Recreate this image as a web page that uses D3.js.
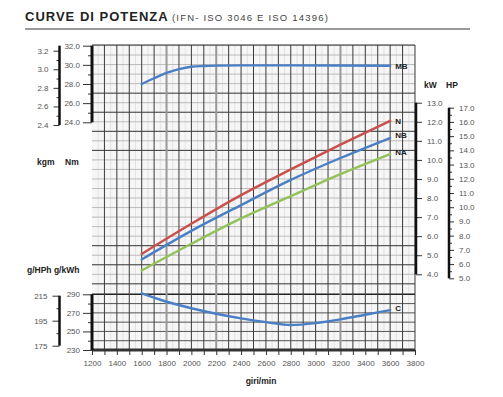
<!DOCTYPE html>
<html><head><meta charset="utf-8">
<script src="https://cdn.jsdelivr.net/npm/d3@7"></script>
<style>
html,body{margin:0;padding:0;background:#fff;}
svg{display:block;font-family:"Liberation Sans",Arial,sans-serif;}
.tick text{font-size:8px;fill:#555;}
.lbl{font-size:8.5px;font-weight:bold;fill:#222;}
</style></head>
<body>
<svg id="c" width="503" height="397"></svg>
<script>
// ---- data ----
const rpmTicks = [1200,1400,1600,1800,2000,2200,2400,2600,2800,3000,3200,3400,3600,3800];
const nmTicks = [24,26,28,30,32];
const kgmTicks = [2.4,2.6,2.8,3.0,3.2];
const kwTicks = [4,5,6,7,8,9,10,11,12,13];
const hpTicks = [5,6,7,8,9,10,11,12,13,14,15,16,17];
const gkwhTicks = [230,250,270,290];
const ghphTicks = [175,195,215];

const mbRpm = [1600,1700,1800,1900,2000,2100,2200,2400,2800,3200,3600];
const mbNm  = [28.0,28.6,29.15,29.55,29.8,29.88,29.92,29.95,29.95,29.93,29.9];

const powRpm = [1600,2000,2400,2800,3200,3600];
const powN  = [5.07,6.65,8.15,9.5,10.8,12.05];
const powNB = [4.78,6.28,7.63,8.95,10.1,11.15];
const powNA = [4.2,5.6,6.93,8.1,9.25,10.3];

const cRpm = [1600,1800,2000,2200,2400,2600,2800,3000,3200,3400,3600];
const cGkwh = [291,282,275,269,264,260,257,259,263,268,273];

// ---- scales ----
const svg = d3.select("#c");
const x = d3.scaleLinear().domain([1200,3800]).range([92,415]);
const yNm = d3.scaleLinear().domain([24,32]).range([122.3,45.7]);
const yKgm = d3.scaleLinear().domain([2.4,3.2]).range([125,50.7]);
const yKw = d3.scaleLinear().domain([4,13]).range([274.3,102.7]);
const yHp = d3.scaleLinear().domain([5,17]).range([278.3,107.7]);
const yG = d3.scaleLinear().domain([230,290]).range([350,294.3]);
const yGh = d3.scaleLinear().domain([175,215]).range([345.7,295.7]);
const pTop = 45, pBot = 350;

// ---- title ----
svg.append("text").attr("x",25).attr("y",21)
  .style("font-weight","bold").style("font-size","13px")
  .style("letter-spacing","1px").attr("fill","#222").text("CURVE DI POTENZA");
svg.append("text").attr("x",172).attr("y",21)
  .style("font-size","9.5px").style("letter-spacing","1.2px").attr("fill","#444")
  .text("(IFN- ISO 3046 E ISO 14396)");
svg.append("line").attr("x1",25).attr("x2",470).attr("y1",29).attr("y2",29)
  .attr("stroke","#777").attr("stroke-width",1.5);

// ---- plot background & grid ----
svg.append("rect").attr("x",x(1200)).attr("y",pTop).attr("width",x(3800)-x(1200)).attr("height",pBot-pTop)
  .attr("fill","#f6f6f6");
const g = svg.append("g");
d3.range(1250,3800,100).forEach(v=>{
  g.append("line").attr("x1",x(v)).attr("x2",x(v)).attr("y1",pTop).attr("y2",pBot)
   .attr("stroke","#e2e2e2").attr("stroke-width",1);
});
const hLines = d3.range(3.5,16.01,0.5);
hLines.forEach(v=>{
  const dark = [13.5,12.5,11.5,10.5,5.5,4.5,3.5].includes(v);
  g.append("line").attr("x1",x(1200)).attr("x2",x(3800)).attr("y1",yKw(v)).attr("y2",yKw(v))
   .attr("stroke",dark?"#333":"#bbb").attr("stroke-width",1);
});
d3.range(230,291,10).forEach(v=>{
  g.append("line").attr("x1",x(1200)).attr("x2",x(3800)).attr("y1",yG(v)).attr("y2",yG(v))
   .attr("stroke",v===290?"#222":"#555").attr("stroke-width",v===290?1.5:1);
});
d3.range(1300,3801,100).forEach(v=>{
  const gray = [1800,2200,3200].includes(v);
  g.append("line").attr("x1",x(v)).attr("x2",x(v)).attr("y1",pTop).attr("y2",pBot)
   .attr("stroke",gray?"#999":"#3a3a3a").attr("stroke-width",gray?2:1);
});
g.append("line").attr("x1",x(1200)).attr("x2",x(3800)).attr("y1",pTop).attr("y2",pTop)
  .attr("stroke","#333").attr("stroke-width",1);

// ---- axes ----
function styleAxis(sel){ sel.selectAll(".tick line").attr("stroke","#333"); sel.select(".domain").remove(); }
const xa = svg.append("g").attr("transform",`translate(0,${pBot})`)
  .call(d3.axisBottom(x).tickValues(rpmTicks).tickSize(5).tickPadding(5).tickFormat(d3.format("d")));
styleAxis(xa);
xa.selectAll(".tick text").attr("fill","#444");
svg.append("g").attr("transform",`translate(0,${pBot})`)
  .call(d3.axisBottom(x).tickValues(d3.range(1300,3800,200)).tickSize(5).tickFormat(""))
  .call(styleAxis);
svg.append("line").attr("x1",x(1200)).attr("x2",x(3800)).attr("y1",pBot).attr("y2",pBot)
  .attr("stroke","#333").attr("stroke-width",3);
svg.append("text").attr("class","lbl").attr("x",261).attr("y",384).attr("text-anchor","middle").text("giri/min");

// Nm
const nmA = svg.append("g").attr("transform",`translate(${x(1200)},0)`)
  .call(d3.axisLeft(yNm).tickValues(nmTicks).tickSize(9).tickPadding(3).tickFormat(d3.format(".1f")));
styleAxis(nmA);
svg.append("g").attr("transform",`translate(${x(1200)},0)`)
  .call(d3.axisLeft(yNm).tickValues([25,27,29,31]).tickSize(4).tickFormat("")).call(styleAxis);
svg.append("line").attr("x1",x(1200)).attr("x2",x(1200)).attr("y1",yNm(32)).attr("y2",yNm(24))
  .attr("stroke","#111").attr("stroke-width",3);
// kgm
const kgA = svg.append("g").attr("transform","translate(59.5,0)")
  .call(d3.axisLeft(yKgm).tickValues(kgmTicks).tickSize(6).tickPadding(5).tickFormat(d3.format(".1f")));
styleAxis(kgA);
svg.append("g").attr("transform","translate(59.5,0)")
  .call(d3.axisLeft(yKgm).tickValues([2.5,2.7,2.9,3.1]).tickSize(3).tickFormat("")).call(styleAxis);
svg.append("line").attr("x1",59.5).attr("x2",59.5).attr("y1",yNm(32)).attr("y2",yKgm(2.4))
  .attr("stroke","#111").attr("stroke-width",2.5);
svg.append("text").attr("class","lbl").attr("x",37).attr("y",165).text("kgm");
svg.append("text").attr("class","lbl").attr("x",65).attr("y",165).text("Nm");

// g/kWh
const gA = svg.append("g").attr("transform",`translate(${x(1200)},0)`)
  .call(d3.axisLeft(yG).tickValues(gkwhTicks).tickSize(9).tickPadding(3));
styleAxis(gA);
svg.append("g").attr("transform",`translate(${x(1200)},0)`)
  .call(d3.axisLeft(yG).tickValues([240,260,280]).tickSize(4).tickFormat("")).call(styleAxis);
svg.append("line").attr("x1",x(1200)).attr("x2",x(1200)).attr("y1",yG(290)).attr("y2",yG(230))
  .attr("stroke","#111").attr("stroke-width",3);
// g/HPh
const ghA = svg.append("g").attr("transform","translate(59.5,0)")
  .call(d3.axisLeft(yGh).tickValues(ghphTicks).tickSize(7).tickPadding(5));
styleAxis(ghA);
svg.append("g").attr("transform","translate(59.5,0)")
  .call(d3.axisLeft(yGh).tickValues([185,205]).tickSize(3).tickFormat("")).call(styleAxis);
svg.append("line").attr("x1",59.5).attr("x2",59.5).attr("y1",yGh(215)).attr("y2",yGh(175))
  .attr("stroke","#111").attr("stroke-width",2.5);
svg.append("text").attr("class","lbl").attr("x",27).attr("y",273).text("g/HPh g/kWh");

// kW
const kwA = svg.append("g").attr("transform",`translate(416,0)`)
  .call(d3.axisRight(yKw).tickValues(kwTicks).tickSize(6).tickPadding(5).tickFormat(d3.format(".1f")));
styleAxis(kwA);
svg.append("line").attr("x1",416).attr("x2",416).attr("y1",yKw(13)).attr("y2",yKw(4))
  .attr("stroke","#111").attr("stroke-width",2.5);
// HP
const hpA = svg.append("g").attr("transform",`translate(449,0)`)
  .call(d3.axisRight(yHp).tickValues(hpTicks).tickSize(5).tickPadding(5).tickFormat(d3.format(".1f")));
styleAxis(hpA);
svg.append("g").attr("transform",`translate(449,0)`)
  .call(d3.axisRight(yHp).tickValues(d3.range(5.5,17,1)).tickSize(3).tickFormat("")).call(styleAxis);
svg.append("line").attr("x1",449).attr("x2",449).attr("y1",yHp(17)).attr("y2",yHp(5))
  .attr("stroke","#111").attr("stroke-width",2.5);
svg.append("text").attr("class","lbl").attr("x",424).attr("y",88).text("kW");
svg.append("text").attr("class","lbl").attr("x",446).attr("y",88).text("HP");

// ---- curves ----
function curve(xs, ys, ys_scale, color){
  const line = d3.line().x((d,i)=>x(xs[i])).y(d=>ys_scale(d)).curve(d3.curveMonotoneX);
  svg.append("path").attr("d",line(ys)).attr("fill","none").attr("stroke",color)
    .attr("stroke-width",2.4).attr("stroke-linecap","round");
}
curve(mbRpm, mbNm, yNm, "#4a7fc6");
curve(powRpm, powN, yKw, "#c9504c");
curve(powRpm, powNB, yKw, "#4a7fc6");
curve(powRpm, powNA, yKw, "#93c25a");
curve(cRpm, cGkwh, yG, "#4a7fc6");

function endLabel(txt, xv, yv){
  svg.append("text").attr("class","lbl").style("font-size","8px").attr("x",x(xv)+5).attr("y",yv+3).text(txt);
}
endLabel("MB", 3600, yNm(mbNm[mbNm.length-1]));
endLabel("N", 3600, yKw(powN[5]));
endLabel("NB", 3600, yKw(powNB[5])-3);
endLabel("NA", 3600, yKw(powNA[5])-2);
endLabel("C", 3600, yG(cGkwh[cGkwh.length-1])-2);
</script>
</body></html>
